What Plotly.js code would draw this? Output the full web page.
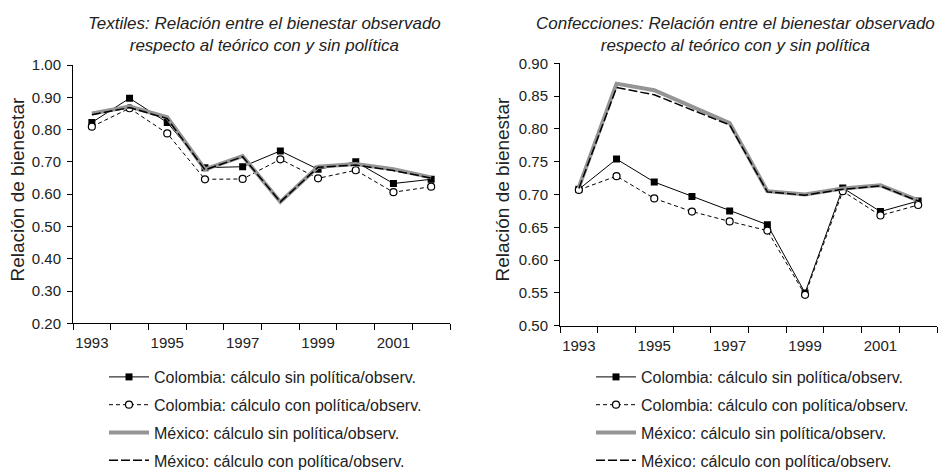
<!DOCTYPE html>
<html>
<head>
<meta charset="utf-8">
<script src="https://cdn.plot.ly/plotly-3.0.1.min.js"></script>
<style>html,body{margin:0;padding:0;background:#fff;overflow:hidden;}#chart{width:939px;height:500px;}</style>
</head>
<body>
<div id="chart"></div>
<script>
// ---- data ----
const years = [1993, 1994, 1995, 1996, 1997, 1998, 1999, 2000, 2001, 2002];
const labelYears = [1993, 1995, 1997, 1999, 2001];

const seriesNames = [
  "Colombia: cálculo sin política/observ.",
  "Colombia: cálculo con política/observ.",
  "México: cálculo sin política/observ.",
  "México: cálculo con política/observ."
];

// Textiles
const textilesColSin = [0.822, 0.897, 0.822, 0.682, 0.685, 0.734, 0.677, 0.700, 0.633, 0.646];
const textilesColCon = [0.809, 0.866, 0.788, 0.646, 0.647, 0.708, 0.649, 0.674, 0.606, 0.623];
const textilesMexSin = [0.850, 0.871, 0.838, 0.677, 0.718, 0.576, 0.685, 0.693, 0.677, 0.652];
const textilesMexCon = [0.846, 0.868, 0.834, 0.675, 0.716, 0.576, 0.683, 0.690, 0.673, 0.650];

// Confecciones
const confColSin = [0.708, 0.754, 0.719, 0.697, 0.675, 0.654, 0.550, 0.710, 0.674, 0.690];
const confColCon = [0.707, 0.728, 0.694, 0.674, 0.659, 0.645, 0.547, 0.705, 0.668, 0.684];
const confMexSin = [0.711, 0.869, 0.859, 0.834, 0.809, 0.705, 0.700, 0.709, 0.714, 0.691];
const confMexCon = [0.709, 0.863, 0.852, 0.829, 0.806, 0.704, 0.699, 0.708, 0.713, 0.690];

const title1 = "Textiles: Relación entre el bienestar observado<br>respecto al teórico con y sin política";
const title2 = "Confecciones: Relación entre el bienestar observado<br>respecto al teórico con y sin política";
const yTitle = "Relación de bienestar";

// ---- styles ----
const FONT = "Liberation Sans, Arial, Helvetica, sans-serif";
const TXT = "#222222";
const styles = [
  {mode: "lines+markers", line: {color: "#000", width: 1}, marker: {symbol: "square", size: 7, color: "#000"}},
  {mode: "lines+markers", line: {color: "#000", width: 1, dash: "4px,3px"}, marker: {symbol: "circle", size: 7, color: "#fff", line: {color: "#000", width: 1.2}}},
  {mode: "lines", line: {color: "#959595", width: 4}},
  {mode: "lines", line: {color: "#000", width: 1.5, dash: "9px,3px"}}
];

function makeTraces(seriesList, xa, ya, leg) {
  return seriesList.map((vals, i) => Object.assign({
    type: "scatter",
    x: years,
    y: vals,
    name: seriesNames[i],
    xaxis: xa,
    yaxis: ya,
    legend: leg,
    legendgroup: leg + "_" + i,
    hoverinfo: "none"
  }, JSON.parse(JSON.stringify(styles[i]))));
}

const traces = [].concat(
  makeTraces([textilesColSin, textilesColCon, textilesMexSin, textilesMexCon], "x", "y", "legend"),
  makeTraces([confColSin, confColCon, confMexSin, confMexCon], "x2", "y2", "legend2")
);

// The page is 472 px tall; the figure is drawn a bit taller so the legends
// never push the plot margins (overflow is hidden).
const W = 939, H = 500;
const px = v => v / W;
const py = v => 1 - v / H;

function xAxis(domain, anchor) {
  return {
    domain: domain, anchor: anchor,
    range: [years[0] - 0.5, years[years.length - 1] + 0.5],
    tickmode: "array", tickvals: labelYears, ticktext: labelYears.map(String),
    ticks: "outside", ticklen: 6, tickcolor: "rgba(0,0,0,0)",
    minor: {tickmode: "linear", tick0: years[0] - 0.5, dtick: 1, ticks: "outside", ticklen: 6, tickcolor: "#000", tickwidth: 1, showgrid: false},
    showline: true, linecolor: "#000", linewidth: 1,
    showgrid: false, zeroline: false, fixedrange: true,
    tickfont: {family: FONT, size: 15, color: TXT}
  };
}
function yAxis(domain, anchor, range, dtick) {
  return {
    domain: domain, anchor: anchor,
    range: range, tickmode: "linear", tick0: range[0], dtick: dtick, tickformat: ".2f",
    ticks: "outside", ticklen: 5, tickcolor: "#000", tickwidth: 1,
    showline: true, linecolor: "#000", linewidth: 1,
    showgrid: false, zeroline: false, fixedrange: true,
    ticklabelstandoff: 3,
    tickfont: {family: FONT, size: 15, color: TXT}
  };
}

const legendCommon = {
  orientation: "v", xanchor: "left", yanchor: "top",
  font: {family: FONT, size: 16, color: TXT},
  bgcolor: "rgba(0,0,0,0)", borderwidth: 0,
  traceorder: "grouped", tracegroupgap: 4, itemwidth: 40
};

const layout = {
  width: W, height: H,
  margin: {l: 0, r: 0, t: 0, b: 0, pad: 0},
  paper_bgcolor: "#fff", plot_bgcolor: "#fff",
  font: {family: FONT, color: TXT},
  showlegend: true,
  xaxis: xAxis([px(73), px(450)], "y"),
  yaxis: yAxis([py(323.3), py(65)], "x", [0.2, 1.0], 0.1),
  xaxis2: xAxis([px(560), px(937)], "y2"),
  yaxis2: yAxis([py(325.7), py(63.3)], "x2", [0.5, 0.9], 0.05),
  legend: Object.assign({x: px(104), y: py(360)}, legendCommon),
  legend2: Object.assign({x: px(591), y: py(360)}, legendCommon),
  annotations: [
    {text: title1, xref: "paper", yref: "paper", x: px(264.7), y: py(34), xanchor: "center", yanchor: "middle", showarrow: false,
     font: {family: FONT, size: 17, color: TXT, style: "italic"}},
    {text: title2, xref: "paper", yref: "paper", x: px(735.5), y: py(34), xanchor: "center", yanchor: "middle", showarrow: false,
     font: {family: FONT, size: 17, color: TXT, style: "italic"}},
    {text: yTitle, xref: "paper", yref: "paper", x: px(17), y: py(189.5), xanchor: "center", yanchor: "middle", textangle: -90, showarrow: false,
     font: {family: FONT, size: 19, color: TXT}},
    {text: yTitle, xref: "paper", yref: "paper", x: px(502), y: py(189.5), xanchor: "center", yanchor: "middle", textangle: -90, showarrow: false,
     font: {family: FONT, size: 19, color: TXT}}
  ]
};

Plotly.newPlot("chart", traces, layout, {staticPlot: true, displayModeBar: false});
</script>
</body>
</html>
